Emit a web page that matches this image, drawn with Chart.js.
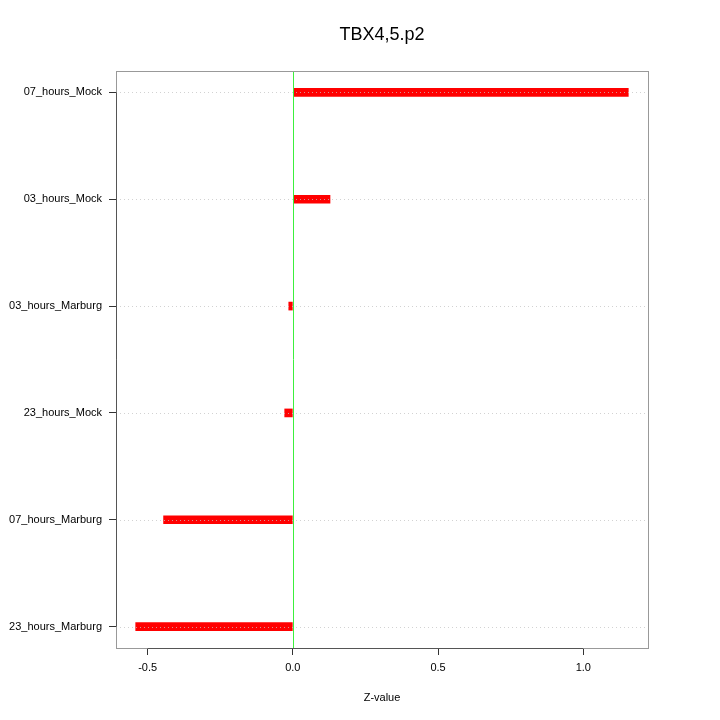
<!DOCTYPE html>
<html>
<head>
<meta charset="utf-8">
<script src="https://cdn.jsdelivr.net/npm/chart.js@4"></script>
<style>
  body { margin: 0; background: #fff; }
  canvas { display: block; }
</style>
</head>
<body>
<canvas id="chart" width="720" height="720"></canvas>
<script>
// bottom to top, as in the picture
const categories = ['23_hours_Marburg', '07_hours_Marburg', '23_hours_Mock', '03_hours_Marburg', '03_hours_Mock', '07_hours_Mock'];
const zValues = [-0.541, -0.445, -0.028, -0.014, 0.128, 1.155];
const xTicks = [-0.5, 0.0, 0.5, 1.0];
const chartTitle = 'TBX4,5.p2';

const FONT = '"Liberation Sans", Arial, Helvetica, sans-serif';

// R style 4% range expansion
const lo = Math.min(...zValues), hi = Math.max(...zValues);
const pad = (hi - lo) * 0.04;
const yPad = (categories.length - 1) * 0.04;

const rStyle = {
    id: 'rStyle',
    afterDatasetsDraw(chart) {
        const { ctx, chartArea: a, scales: { x, y } } = chart;
        ctx.save();
        // dotted grid on top of bars
        ctx.strokeStyle = 'rgba(195,195,195,0.75)';
        ctx.lineWidth = 1;
        ctx.setLineDash([1, 3]);
        categories.forEach((c, i) => {
            const py = Math.round(y.getPixelForValue(i)) + 0.5;
            ctx.beginPath();
            ctx.moveTo(a.left, py);
            ctx.lineTo(a.right, py);
            ctx.stroke();
        });
        ctx.setLineDash([]);
        // zero line
        const zx = Math.round(x.getPixelForValue(0)) + 0.5;
        ctx.strokeStyle = '#3cf03c';
        ctx.beginPath();
        ctx.moveTo(zx, a.top);
        ctx.lineTo(zx, a.bottom);
        ctx.stroke();
        // box
        ctx.strokeStyle = '#999';
        ctx.strokeRect(Math.round(a.left) + 0.5, Math.round(a.top) + 0.5,
            Math.round(a.right - a.left), Math.round(a.bottom - a.top));
        // axis lines over tick range
        ctx.strokeStyle = '#555';
        const bx = Math.round(a.left) + 0.5, by = Math.round(a.bottom) + 0.5;
        ctx.beginPath();
        ctx.moveTo(bx, y.getPixelForValue(0));
        ctx.lineTo(bx, y.getPixelForValue(categories.length - 1));
        ctx.moveTo(x.getPixelForValue(xTicks[0]), by);
        ctx.lineTo(x.getPixelForValue(xTicks[xTicks.length - 1]), by);
        ctx.stroke();
        // title
        ctx.fillStyle = '#000';
        ctx.font = '18px ' + FONT;
        ctx.textAlign = 'center';
        ctx.textBaseline = 'middle';
        ctx.fillText(chartTitle, (a.left + a.right) / 2, 35);
        ctx.restore();
    }
};

new Chart(document.getElementById('chart'), {
    type: 'bar',
    data: {
        datasets: [{
            data: zValues.map((v, i) => ({ x: v, y: i })),
            backgroundColor: '#ff0000',
            borderWidth: 0,
            barThickness: 8
        }]
    },
    options: {
        indexAxis: 'y',
        responsive: false,
        devicePixelRatio: 1,
        animation: false,
        layout: { padding: { top: 71, right: 72 } },
        plugins: { legend: { display: false }, tooltip: { enabled: false } },
        scales: {
            x: {
                type: 'linear',
                min: lo - pad,
                max: hi + pad,
                afterBuildTicks: s => { s.ticks = xTicks.map(v => ({ value: v })); },
                afterFit: s => { s.height = 72; },
                grid: { drawOnChartArea: false, drawTicks: true, tickLength: 7, tickColor: '#333' },
                border: { display: false },
                ticks: {
                    padding: 6,
                    color: '#000',
                    font: { family: FONT, size: 11 },
                    callback: v => v.toFixed(1)
                },
                title: {
                    display: true,
                    text: 'Z-value',
                    color: '#000',
                    font: { family: FONT, size: 11 },
                    padding: { top: 0, bottom: 15 }
                }
            },
            y: {
                type: 'linear',
                offset: false,
                min: -yPad,
                max: categories.length - 1 + yPad,
                afterBuildTicks: s => { s.ticks = categories.map((c, i) => ({ value: i })); },
                afterFit: s => { s.width = 116; },
                grid: { offset: false, drawOnChartArea: false, drawTicks: true, tickLength: 7, tickColor: '#333' },
                border: { display: false },
                ticks: {
                    padding: 7,
                    color: '#000',
                    font: { family: FONT, size: 11 },
                    callback: v => categories[v]
                }
            }
        }
    },
    plugins: [rStyle]
});
</script>
</body>
</html>
